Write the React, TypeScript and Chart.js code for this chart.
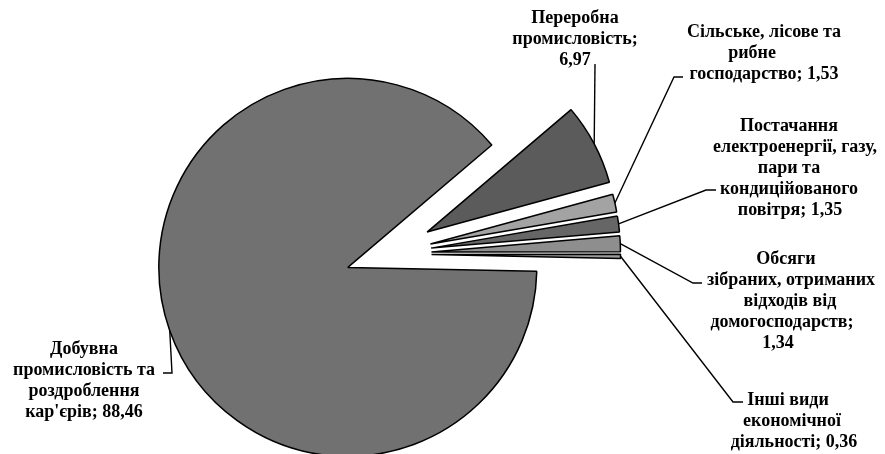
import React, { useEffect, useRef } from "react";
import { Chart, registerables } from "chart.js";

Chart.register(...registerables);

// ---------- data ----------
const categories = [
  "Добувна промисловість та роздроблення кар'єрів",
  "Переробна промисловість",
  "Сільське, лісове та рибне господарство",
  "Постачання електроенергії, газу, пари та кондиційованого повітря",
  "Обсяги зібраних, отриманих відходів від домогосподарств",
  "Інші види економічної діяльності",
];
const values = [88.46, 6.97, 1.53, 1.35, 1.34, 0.36];

// ---------- styles / layout ----------
const sliceColors = ["#717171", "#5b5b5b", "#a3a3a3", "#666666", "#8e8e8e", "#9c9c9c"];
const sliceOffsets = [160, 188, 184, 184, 184, 184];
const sliceRadius = 189;
const FONT = 'bold 18px "Liberation Serif", "Times New Roman", serif';
const LINE_H = 21;

// words per line for each label
const labelLineWords = [
  [1, 2, 1, 2],
  [1, 1, 1],
  [3, 1, 2],
  [1, 2, 2, 1, 2],
  [1, 2, 2, 1, 1],
  [2, 1, 2],
];
// line centre x's, first baseline, leader path after the slice anchor
const labelLayout = [
  { xs: [84, 84, 84, 84], y: 353.5, path: [[172, 373], [163, 373]] },
  { xs: [575, 575, 575], y: 22.5, path: [[595, 64]] },
  { xs: [764, 752, 764], y: 36.5, path: [[674, 77], [683, 77]] },
  { xs: [789, 795, 789, 789, 790], y: 131, path: [[706, 190], [716, 190]] },
  { xs: [786, 791, 790, 782, 778], y: 263.5, path: [[693, 283], [702, 283]] },
  { xs: [788, 792, 794], y: 405, path: [[733, 402], [743, 402]] },
];

const fmt = (v: number) => v.toFixed(2).replace(".", ",");

function labelLines(i: number): string[] {
  const words = `${categories[i]}; ${fmt(values[i])}`.split(" ");
  const out: string[] = [];
  let k = 0;
  for (const n of labelLineWords[i]) {
    out.push(words.slice(k, k + n).join(" "));
    k += n;
  }
  return out;
}

// keep every exploded slice at the same visible radius and its true angle
const explodePlugin = {
  id: "explodeFix",
  afterUpdate(chart: any) {
    const meta = chart.getDatasetMeta(0);
    meta.data.forEach((el: any) => {
      const t = (el.options.offset || 0) / 4;
      const fix = 1 - Math.sin(Math.min(Math.PI, el.circumference || 0));
      const rOff = t * fix;
      el.outerRadius = sliceRadius - rOff;
      el.innerRadius = 0;
      const d = rOff / (Math.PI * sliceRadius);
      el.startAngle -= d / 2;
      el.endAngle += d / 2;
    });
  },
};

const labelPlugin = {
  id: "sliceLabels",
  afterDatasetsDraw(chart: any) {
    const ctx: CanvasRenderingContext2D = chart.ctx;
    const meta = chart.getDatasetMeta(0);
    ctx.save();
    meta.data.forEach((el: any, i: number) => {
      const mid = (el.startAngle + el.endAngle) / 2;
      const t = (el.options.offset || 0) / 4;
      const r = sliceRadius;
      const ax = el.x + Math.cos(mid) * (t + r);
      const ay = el.y + Math.sin(mid) * (t + r);
      const lay = labelLayout[i];
      ctx.beginPath();
      ctx.moveTo(ax, ay);
      lay.path.forEach((p) => ctx.lineTo(p[0], p[1]));
      ctx.strokeStyle = "#000";
      ctx.lineWidth = 1.4;
      ctx.stroke();

      ctx.font = FONT;
      ctx.fillStyle = "#000";
      ctx.textAlign = "center";
      ctx.textBaseline = "alphabetic";
      labelLines(i).forEach((line, j) => {
        ctx.fillText(line, lay.xs[j], lay.y + j * LINE_H);
      });
    });
    ctx.restore();
  },
};

export default function App() {
  const ref = useRef<HTMLCanvasElement | null>(null);
  useEffect(() => {
    if (!ref.current) return;
    const chart = new Chart(ref.current, {
      type: "pie",
      data: {
        labels: categories,
        datasets: [
          {
            data: values,
            backgroundColor: sliceColors,
            borderColor: "#000",
            borderWidth: 1.5,
            offset: sliceOffsets,
          },
        ],
      },
      options: {
        responsive: false,
        animation: false,
        events: [],
        rotation: 91.2,
        layout: { padding: { left: 0, right: 114, top: 54, bottom: 0 } },
        plugins: {
          legend: { display: false },
          tooltip: { enabled: false },
        },
      },
      plugins: [explodePlugin, labelPlugin],
    });
    return () => chart.destroy();
  }, []);
  return (
    <div style={{ position: "absolute", left: 0, top: 0, width: 885, height: 454, background: "#fff" }}>
      <canvas ref={ref} width={885} height={454} />
    </div>
  );
}
